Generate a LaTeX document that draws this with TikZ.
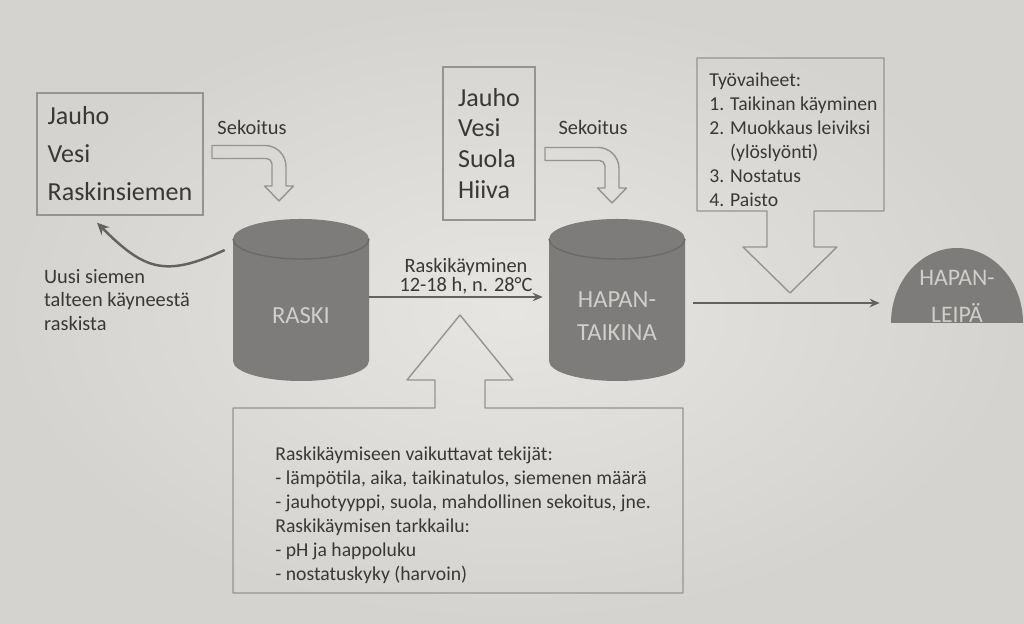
\documentclass[tikz,border=0pt]{standalone}
\usepackage{fontspec}
\setmainfont{Carlito}
\usetikzlibrary{arrows.meta, positioning}

\definecolor{taustavaalea}{RGB}{230,229,225}
\definecolor{taustatumma}{RGB}{212,211,207}
\definecolor{viiva}{RGB}{150,148,145}
\definecolor{teksti}{RGB}{58,56,54}
\definecolor{sailiovari}{RGB}{126,124,122}
\definecolor{sailioreuna}{RGB}{108,106,104}
\definecolor{vaalea}{RGB}{208,206,203}
\definecolor{nuoli}{RGB}{100,98,96}

\tikzset{
    kaarinuoli/.pic={
        \draw[draw=viiva, line width=0.8pt, line join=round]
            (0,6.5) -- (53,6.5) arc[start angle=90, end angle=0, radius=21]
            -- (74,-34) -- (81.5,-34) -- (67,-49) -- (52.5,-34) -- (60,-34)
            -- (60,-12) arc[start angle=0, end angle=90, radius=5.5]
            -- (0,-6.5) -- cycle;
    },
    sailio/.pic={
        \fill[sailiovari] (-68,61) -- (-68,-61)
            arc[start angle=180, end angle=360, x radius=68, y radius=20]
            -- (68,61) arc[start angle=0, end angle=180, x radius=68, y radius=20] -- cycle;
        \draw[sailioreuna, line width=0.8pt] (-68,61)
            arc[start angle=180, end angle=360, x radius=68, y radius=20];
    }
}

\begin{document}
\begin{tikzpicture}[
    x=0.02cm, y=0.02cm,
    laatikko/.style={draw=viiva, line width=0.8pt},
    ainekset/.style={laatikko, text=teksti, align=left, font=\fontsize{14.8}{21.6}\selectfont},
    pieni/.style={text=teksti, align=left, inner sep=1pt, font=\fontsize{11.6}{13.6}\selectfont},
    lista/.style={text=teksti, align=left, inner sep=0pt, font=\fontsize{11.2}{13.7}\selectfont},
    sailioteksti/.style={text=vaalea, align=center, inner sep=0pt, minimum width=2.72cm, font=\fontsize{14}{18.7}\selectfont},
    virtaus/.style={draw=nuoli, line width=1.1pt, -{Stealth[length=0.2cm, width=0.17cm]}}
]

% Background
\shade[inner color=taustavaalea, outer color=taustatumma] (0,0) rectangle (1024,624);
\useasboundingbox (0,0) rectangle (1024,624);

% Ingredient boxes
\node[ainekset, minimum width=3.32cm, minimum height=2.44cm] (ainekset1) at (120,470) {Jauho\\Vesi\\Raskinsiemen};
\node[ainekset, minimum width=1.84cm, minimum height=3.06cm, font=\fontsize{14.8}{17.6}\selectfont] (ainekset2) at (489,480.5) {Jauho\\Vesi\\Suola\\Hiiva};

% Mixing arrows
\node[pieni] (sekoitus1) at (252,496) {Sekoitus};
\pic at (212,472) {kaarinuoli};
\node[pieni] (sekoitus2) at (593,496) {Sekoitus};
\pic at (545,470) {kaarinuoli};

% Tanks and bread
\pic at (301,324) {sailio};
\pic at (617,324) {sailio};
\fill[sailiovari] (891,301) arc[start angle=180, end angle=0, x radius=66, y radius=75] -- cycle;
\node[sailioteksti] (raski) at (301,308) {RASKI};
\node[sailioteksti] (hapan) at (617,307.5) {HAPAN-\\TAIKINA};
\node[sailioteksti, minimum width=2.64cm, font=\fontsize{13.5}{21}\selectfont] (leipa) at (957,327.5) {HAPAN-\\LEIPÄ};

% Work phases box with arrow
\draw[laatikko, line join=round] (697,566) -- (884,566) -- (884,413) -- (814,413) -- (814,377)
    -- (837,377) -- (790,331) -- (743,377) -- (767,377) -- (767,413) -- (697,413) -- cycle;
\node[lista, anchor=west] (tyovaiheet) at (709,484) {Työvaiheet:\\1. Taikinan käyminen\\2. Muokkaus leiviksi\\\phantom{2. }(ylöslyönti)\\3. Nostatus\\4. Paisto};

% Factors box with arrow
\draw[laatikko, line join=round] (233,31) -- (683,31) -- (683,216) -- (485,216) -- (485,244)
    -- (513,244) -- (460,309) -- (407,244) -- (435,244) -- (435,216) -- (233,216) -- cycle;
\node[lista, anchor=west] (tekijat) at (275,108.5) {Raskikäymiseen vaikuttavat tekijät:\\- lämpötila, aika, taikinatulos, siemenen määrä\\- jauhotyyppi, suola, mahdollinen sekoitus, jne.\\Raskikäymisen tarkkailu:\\- pH ja happoluku\\- nostatuskyky (harvoin)};

% Seed note
\node[pieni, anchor=west] (uusi) at (42,324) {Uusi siemen\\talteen käyneestä\\raskista};

% Flow edges
\coordinate (raski-ulos) at ([yshift=0.38cm]raski.east);
\coordinate (hapan-ulos) at ([yshift=0.27cm]hapan.east);
\coordinate (siemen-alku) at ([xshift=-0.16cm, yshift=1.32cm]raski.west);
\path (raski-ulos) edge[virtaus, shorten >=0.12cm] node[pieni, above, align=center, xshift=0.14cm, font=\fontsize{11.6}{10.8}\selectfont] {Raskikäyminen\\12-18 h, n. 28°C} (raski-ulos -| hapan.west);
\path (hapan-ulos) edge[virtaus, shorten <=0.16cm, shorten >=0.22cm] (hapan-ulos -| leipa.west);
\path (siemen-alku) edge[draw=nuoli, line width=1.4pt, -{Stealth[length=0.24cm, width=0.22cm]}, out=205, in=-45, looseness=1.3] ([xshift=-0.46cm, yshift=-0.14cm]ainekset1.south);

\end{tikzpicture}
\end{document}
